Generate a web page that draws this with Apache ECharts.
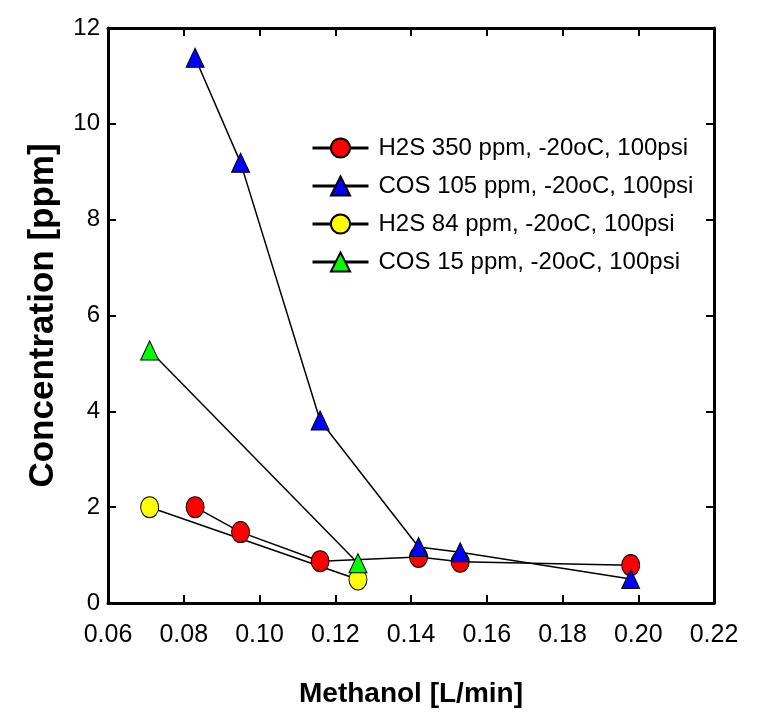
<!DOCTYPE html>
<html>
<head>
<meta charset="utf-8">
<script src="https://cdn.jsdelivr.net/npm/echarts@6/dist/echarts.min.js"></script>
<style>html,body{margin:0;padding:0;background:#fff;}#c{width:757px;height:723px;}</style>
</head>
<body>
<div id="c"></div>
<script>
// Data
const xTicks = [0.06, 0.08, 0.10, 0.12, 0.14, 0.16, 0.18, 0.20, 0.22];
const yTicks = [0, 2, 4, 6, 8, 10, 12];
const seriesNames = [
  'H2S 350 ppm, -20oC, 100psi',
  'COS 105 ppm, -20oC, 100psi',
  'H2S 84 ppm, -20oC, 100psi',
  'COS 15 ppm, -20oC, 100psi'
];
const h2s350X = [0.083, 0.095, 0.116, 0.142, 0.153, 0.198];
const h2s350Y = [2.00, 1.48, 0.87, 0.96, 0.86, 0.79];
const cos105X = [0.083, 0.095, 0.116, 0.142, 0.153, 0.198];
const cos105Y = [11.38, 9.19, 3.81, 1.17, 1.06, 0.50];
const h2s84X = [0.071, 0.126];
const h2s84Y = [2.00, 0.49];
const cos15X = [0.071, 0.126];
const cos15Y = [5.27, 0.83];

const pairs = (xs, ys) => xs.map((x, i) => [x, ys[i]]);

const ARIAL = "'Liberation Sans', Arial, sans-serif";

const chart = echarts.init(document.getElementById('c'), null, {renderer: 'canvas'});

const commonX = {
  type: 'value', min: xTicks[0], max: xTicks[xTicks.length - 1], interval: 0.02,
  splitLine: {show: false},
  axisLine: {show: true, onZero: false, lineStyle: {color: '#000', width: 3}},
  axisTick: {show: true, inside: true, length: 8, lineStyle: {color: '#000', width: 2}}
};
const commonY = {
  type: 'value', min: yTicks[0], max: yTicks[yTicks.length - 1], interval: 2,
  splitLine: {show: false},
  axisLine: {show: true, onZero: false, lineStyle: {color: '#000', width: 3}},
  axisTick: {show: true, inside: true, length: 8, lineStyle: {color: '#000', width: 2}}
};

function mkSeries(name, data, symbol, size, color) {
  return {
    name, type: 'line', data, symbol, symbolSize: size,
    xAxisIndex: 0, yAxisIndex: 0,
    lineStyle: {color: '#000', width: 1.5},
    itemStyle: {color, borderColor: '#000', borderWidth: 1},
    emphasis: {disabled: true},
    animation: false
  };
}

chart.setOption({
  animation: false,
  backgroundColor: '#fff',
  grid: {left: 108, right: 43, top: 28, bottom: 120, containLabel: false, outerBoundsMode: 'none'},
  legend: {
    orient: 'vertical', left: 311, top: 136, padding: 0,
    itemWidth: 56, itemHeight: 24, itemGap: 14,
    lineStyle: {color: '#000', width: 3},
    textStyle: {fontFamily: ARIAL, fontSize: 24, color: '#000', padding: [0, 0, 0, 5]},
    data: seriesNames
  },
  xAxis: [
    Object.assign({}, commonX, {
      position: 'bottom',
      name: 'Methanol [L/min]', nameLocation: 'middle', nameGap: 77,
      nameTextStyle: {fontFamily: ARIAL, fontWeight: 'bold', fontSize: 28, color: '#000'},
      axisLabel: {show: true, margin: 20, fontFamily: ARIAL, fontSize: 25, color: '#000',
        formatter: v => v.toFixed(2)}
    }),
    Object.assign({}, commonX, {position: 'top', axisLabel: {show: false}})
  ],
  yAxis: [
    Object.assign({}, commonY, {
      position: 'left',
      name: 'Concentration [ppm]', nameLocation: 'middle', nameGap: 47,
      nameTextStyle: {fontFamily: ARIAL, fontWeight: 'bold', fontSize: 35, color: '#000'},
      axisLabel: {show: true, margin: 8, fontFamily: ARIAL, fontSize: 24, color: '#000',
        formatter: v => String(v)}
    }),
    Object.assign({}, commonY, {position: 'right', axisLabel: {show: false}})
  ],
  series: [
    mkSeries(seriesNames[0], pairs(h2s350X, h2s350Y), 'circle', [18, 21], '#ff0000'),
    mkSeries(seriesNames[1], pairs(cos105X, cos105Y), 'triangle', [18, 19], '#0000ff'),
    mkSeries(seriesNames[2], pairs(h2s84X, h2s84Y), 'circle', [18, 21], '#ffff00'),
    mkSeries(seriesNames[3], pairs(cos15X, cos15Y), 'triangle', [18, 19], '#00ff00')
  ]
});
</script>
</body>
</html>
